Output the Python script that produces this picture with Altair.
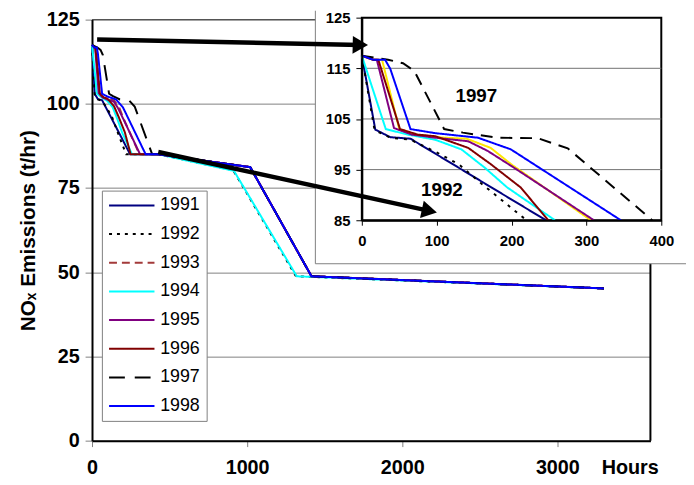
import altair as alt
import pandas as pd

YEARS = ["1991", "1992", "1993", "1994", "1995", "1996", "1997", "1998"]

# hours / NOx emission values
H_1991 = [0, 18, 38, 65, 246, 430, 1020, 1415, 3300]
V_1991 = [117.5, 102.9, 101.4, 101.1, 85.0, 85.0, 81.2, 48.8, 45.2]
H_1992 = [0, 17, 38, 65, 100, 130, 160, 190, 220, 430, 910, 1315, 3300]
V_1992 = [117.5, 102.8, 101.3, 100.9, 98.4, 96.0, 92.2, 88.6, 85.0, 85.0, 80.3, 48.8, 45.2]
H_1993 = [0, 15, 27, 50, 75, 110, 140, 172, 200, 306, 430, 1020, 1415, 3300]
V_1993 = [117.5, 116.7, 116.7, 103.0, 101.8, 101.3, 101.1, 99.3, 96.0, 85.0, 85.0, 81.2, 48.8, 45.2]
H_1994 = [0, 32, 62, 98, 133, 164, 194, 258, 430, 915, 1320, 3300]
V_1994 = [117.5, 103.0, 101.9, 100.9, 99.0, 95.4, 91.5, 85.0, 85.0, 80.1, 48.8, 45.2]
H_1995 = [0, 15, 20, 43, 67, 98, 142, 168, 203, 310, 430, 1020, 1415, 3300]
V_1995 = [117.5, 116.7, 116.7, 103.2, 101.9, 101.3, 100.6, 98.7, 95.4, 85.0, 85.0, 81.2, 48.8, 45.2]
H_1996 = [0, 15, 22, 51, 75, 98, 142, 172, 212, 249, 430, 1020, 1415, 3300]
V_1996 = [117.5, 116.7, 116.7, 103.0, 101.9, 101.6, 99.3, 96.1, 91.5, 85.0, 85.0, 81.2, 48.8, 45.2]
H_1997 = [0, 35, 55, 70, 110, 135, 180, 235, 275, 388, 430, 1020, 1415, 3300]
V_1997 = [117.5, 116.7, 116.0, 114.5, 103.0, 102.3, 101.3, 101.2, 99.2, 85.0, 85.0, 81.2, 48.8, 45.2]
H_1998 = [0, 15, 31, 38, 65, 98, 155, 199, 346, 430, 1020, 1415, 3300]
V_1998 = [117.5, 116.7, 116.7, 114.9, 103.0, 102.2, 101.3, 99.0, 85.0, 85.0, 81.2, 48.8, 45.2]

SERIES = {
    "1991": (H_1991, V_1991), "1992": (H_1992, V_1992),
    "1993": (H_1993, V_1993), "1994": (H_1994, V_1994),
    "1995": (H_1995, V_1995), "1996": (H_1996, V_1996),
    "1997": (H_1997, V_1997), "1998": (H_1998, V_1998),
}

# styles
MAIN_COLORS = ["#000080", "#000000", "#A33A3A", "#00FFFF", "#800080", "#800000", "#000000", "#0000FF"]
MAIN_DASH = [[1, 0], [3, 5], [8, 5], [1, 0], [1, 0], [1, 0], [16, 10], [1, 0]]
INSET_COLORS = ["#000080", "#000000", "#FFE600", "#00FFFF", "#800080", "#800000", "#000000", "#0000FF"]
INSET_DASH = [[1, 0], [3, 6], [1, 0], [1, 0], [1, 0], [1, 0], [12, 8], [1, 0]]

# annotations
ANN_LABELS = ["1997", "1992"]
ANN_HOURS = [153, 107]
ANN_VALUES = [109.6, 90.9]

ARROW_IDS = ["a", "a", "b", "b"]
ARROW_HOURS = [33, 1730, 427, 2175]
ARROW_VALUES = [119.1, 117.48, 85.7, 68.2]
HEAD_HOURS = [1730, 2175]
HEAD_VALUES = [117.48, 68.2]
HEAD_ANGLES = [1.2, 12.2]

FONT = "Liberation Sans, Arial, DejaVu Sans"

rows = []
for yr in YEARS:
    hs, vs = SERIES[yr]
    for h, v in zip(hs, vs):
        rows.append({"year": yr, "hours": h, "value": v})
df = pd.DataFrame(rows)

# ---------------- main chart ----------------
xs_main = alt.Scale(domain=[0, 3600], nice=False, zero=False)
ys_main = alt.Scale(domain=[0, 125], nice=False, zero=False)
ax_x_main = alt.Axis(values=[0, 1000, 2000, 3000], format="d", title="Hours", grid=False,
                     labelFont=FONT, labelFontSize=20, labelFontWeight="bold", labelColor="black",
                     labelFlush=False, labelPadding=11, tickSize=6, tickColor="#808080",
                     domainColor="black", domainWidth=2,
                     titleFont=FONT, titleFontSize=20, titleFontWeight="bold", titleColor="black",
                     titleX=544, titleY=33, titleAlign="center", titleBaseline="alphabetic")
ax_y_main = alt.Axis(values=[0, 25, 50, 75, 100, 125], format="d", title="NOₓ Emissions (t/hr)", grid=True,
                     gridColor="#808080", gridWidth=1,
                     labelFont=FONT, labelFontSize=20, labelFontWeight="bold", labelColor="black",
                     labelFlush=False, labelPadding=6, tickSize=7, tickColor="#808080",
                     domainColor="black", domainWidth=2,
                     titleFont=FONT, titleFontSize=21, titleFontWeight="bold", titleColor="black",
                     titlePadding=8)

legend = alt.Legend(orient="none", legendX=10, legendY=173, title=None,
                    symbolType="M-1.35,0H6.65", symbolSize=132, symbolStrokeWidth=2,
                    labelFont=FONT, labelFontSize=18, labelColor="black", labelOffset=35,
                    fillColor="white", strokeColor="#808080", padding=6, rowPadding=11)


def xm():
    return alt.X("hours:Q", scale=xs_main, axis=ax_x_main)


def ym():
    return alt.Y("value:Q", scale=ys_main, axis=ax_y_main)


main_lines = alt.Chart(df).mark_line(strokeWidth=2).encode(
    x=xm(), y=ym(),
    color=alt.Color("year:N", scale=alt.Scale(domain=YEARS, range=MAIN_COLORS), legend=legend),
    strokeDash=alt.StrokeDash("year:N", scale=alt.Scale(domain=YEARS, range=MAIN_DASH), legend=legend),
)

frame_right = alt.Chart(pd.DataFrame({"hours": [3600], "value": [0], "value2": [125]})).mark_rule(
    color="black", strokeWidth=2).encode(x=xm(), y=ym(), y2="value2:Q")
frame_top = alt.Chart(pd.DataFrame({"hours": [0], "hours2": [3600], "value": [125]})).mark_rule(
    color="#404040", strokeWidth=1).encode(x=xm(), x2="hours2:Q", y=ym())

main = alt.layer(main_lines, frame_right, frame_top)

# ---------------- inset ----------------
xs_in = alt.Scale(domain=[0, 400], range=[273, 576], nice=False, zero=False)
ys_in = alt.Scale(domain=[85, 125], range=[203, -2], nice=False, zero=False)
ax_x_in = alt.Axis(orient="bottom", offset=-223, values=[0, 100, 200, 300, 400], title=None, grid=False,
                   labelFont=FONT, labelFontSize=15, labelFontWeight="bold", labelColor="black",
                   labelFlush=False, labelPadding=9, tickSize=5, tickColor="black",
                   domainColor="black", domainWidth=2, zindex=1)
ax_y_in = alt.Axis(orient="left", offset=-273, values=[85, 95, 105, 115, 125], title=None, grid=False,
                   labelFont=FONT, labelFontSize=15, labelFontWeight="bold", labelColor="black",
                   labelFlush=False, labelPadding=6, tickSize=6, tickColor="black",
                   domainColor="black", domainWidth=2, zindex=1)


def xi():
    return alt.X("hours:Q", scale=xs_in, axis=ax_x_in)


def yi():
    return alt.Y("value:Q", scale=ys_in, axis=ax_y_in)


one = pd.DataFrame({"k": [0]})
panel = alt.Chart(one).mark_rect(fill="white").encode(
    x=alt.value(226), x2=alt.value(601), y=alt.value(-9), y2=alt.value(247))
panel_left = alt.Chart(one).mark_rule(color="#808080", strokeWidth=1).encode(
    x=alt.value(226), y=alt.value(-9), y2=alt.value(247))
panel_bottom = alt.Chart(one).mark_rule(color="#808080", strokeWidth=1).encode(
    x=alt.value(226), x2=alt.value(601), y=alt.value(247))

inset_frame = alt.Chart(pd.DataFrame({"hours": [0], "hours2": [400], "value": [85], "value2": [125]})).mark_rect(
    fill="white", stroke="black", strokeWidth=2).encode(x=xi(), x2="hours2:Q", y=yi(), y2="value2:Q")
inset_grid = alt.Chart(pd.DataFrame({"hours": [0, 0, 0], "hours2": [400, 400, 400], "value": [95, 105, 115]})).mark_rule(
    color="#707070", strokeWidth=1).encode(x=xi(), x2="hours2:Q", y=yi())
inset_lines = alt.Chart(df).transform_filter(
    (alt.datum.hours <= 400) & (alt.datum.value >= 85)
).mark_line(strokeWidth=2).encode(
    x=xi(), y=yi(),
    color=alt.Color("year:N", scale=alt.Scale(domain=YEARS, range=INSET_COLORS), legend=None),
    strokeDash=alt.StrokeDash("year:N", scale=alt.Scale(domain=YEARS, range=INSET_DASH), legend=None),
)
inset_text = alt.Chart(pd.DataFrame({"label": ANN_LABELS, "hours": ANN_HOURS, "value": ANN_VALUES})).mark_text(
    font=FONT, fontSize=19, fontWeight="bold", color="black", align="center", baseline="middle").encode(
    x=xi(), y=yi(), text="label:N")

inset = alt.layer(panel, panel_left, panel_bottom, inset_frame, inset_grid, inset_lines, inset_text)

# ---------------- arrows ----------------
xs_ar = alt.Scale(domain=[0, 3600], nice=False, zero=False)
ys_ar = alt.Scale(domain=[0, 125], nice=False, zero=False)
arrow_lines = alt.Chart(pd.DataFrame({"id": ARROW_IDS, "hours": ARROW_HOURS, "value": ARROW_VALUES})).mark_line(
    color="black", strokeWidth=4.5).encode(
    x=alt.X("hours:Q", scale=xs_ar, axis=None), y=alt.Y("value:Q", scale=ys_ar, axis=None), detail="id:N")
arrow_heads = alt.Chart(pd.DataFrame({"hours": HEAD_HOURS, "value": HEAD_VALUES, "angle": HEAD_ANGLES})).mark_point(
    shape="triangle-right", filled=True, size=320, color="black", opacity=1).encode(
    x=alt.X("hours:Q", scale=xs_ar, axis=None), y=alt.Y("value:Q", scale=ys_ar, axis=None),
    angle=alt.Angle("angle:Q", scale=None))
arrows = alt.layer(arrow_lines, arrow_heads)

chart = alt.layer(main, inset, arrows).resolve_scale(
    x="independent", y="independent", color="independent", strokeDash="independent"
).properties(
    width=565, height=426,
    autosize=alt.AutoSizeParams(type="none"),
    padding={"left": 85, "top": 9, "right": 36, "bottom": 34},
).configure_view(stroke=None)

chart.save("out.html", embed_options={"renderer": "svg", "actions": False})
